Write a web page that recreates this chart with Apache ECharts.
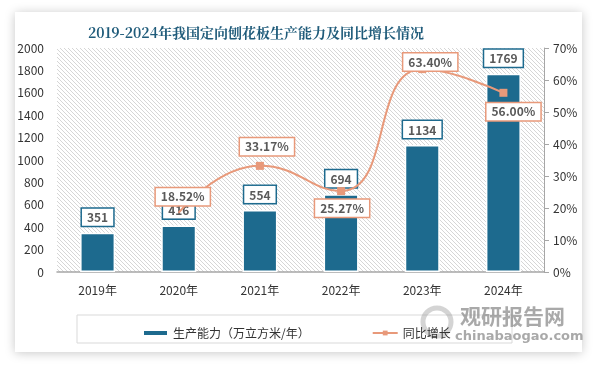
<!DOCTYPE html>
<html>
<head>
<meta charset="utf-8">
<script src="https://cdn.jsdelivr.net/npm/echarts@6/dist/echarts.min.js"></script>
<style>
html,body{margin:0;padding:0;background:#ffffff;}
#c{width:594px;height:366px;}
</style>
</head>
<body>
<div id="c"></div>
<script>
var categories = ['2019年','2020年','2021年','2022年','2023年','2024年'];
var capacity = [351, 416, 554, 694, 1134, 1769];
var growth = [null, 18.52, 33.17, 25.27, 63.40, 56.00];
var leftTicks = [0, 2000, 200];
var rightTicks = [0, 70, 10];

var barColor = '#1d6a8e';
var lineColor = '#e8997a';

// hatch pattern
var pc = document.createElement('canvas');
pc.width = 4; pc.height = 4;
var ctx = pc.getContext('2d');
ctx.fillStyle = '#ffffff';
ctx.fillRect(0,0,4,4);
ctx.strokeStyle = '#d6d6d6';
ctx.lineWidth = 1;
ctx.beginPath();
ctx.moveTo(-1,-1); ctx.lineTo(5,5);
ctx.moveTo(-1,3); ctx.lineTo(1,5);
ctx.moveTo(3,-1); ctx.lineTo(5,1);
ctx.stroke();

var lineOffsets = [null, [4,-16], [7,-19], [1,17], [8,-7], [10,19]];

var chart = echarts.init(document.getElementById('c'), null, {renderer:'canvas'});
var fam = '"Noto Sans CJK SC","Liberation Sans",sans-serif';

var lineData = growth.map(function(v,i){
  if (v === null) return null;
  var d = { value: v, label: {offset: lineOffsets[i]} };
  if (i === 1) d.symbolSize = 1;
  return d;
});

chart.setOption({
  animation:false,
  textStyle:{fontFamily:fam},
  graphic:[
    {type:'rect', z:-10, silent:true, shape:{x:15,y:12,width:567,height:340},
     style:{fill:'#ffffff', shadowBlur:10, shadowColor:'rgba(0,0,0,0.22)', shadowOffsetX:0, shadowOffsetY:1}},
    {type:'text', z:5, x:256, y:33, style:{text:'2019-2024年我国定向刨花板生产能力及同比增长情况', fill:'#1f5b7a',
      font:'bold 14px "Noto Serif CJK SC","Noto Sans CJK SC",serif', textAlign:'center', textVerticalAlign:'middle'}},
    {type:'rect', z:1, silent:true, shape:{x:77,y:315,width:435,height:28},
     style:{fill:'none', stroke:'#d9d9d9', lineWidth:1}},
    {type:'circle', z:2, silent:true, shape:{cx:437,cy:322,r:14},
     style:{fill:'none', stroke:'rgba(160,160,160,0.45)', lineWidth:5}},
    {type:'text', z:2, x:460, y:316, style:{text:'观研报告网', fill:'rgba(140,140,140,0.75)',
      font:'bold 21px "Noto Sans CJK SC",sans-serif', textVerticalAlign:'middle'}},
    {type:'text', z:2, x:455, y:337, style:{text:'chinabaogao.com', fill:'rgba(140,140,140,0.75)',
      font:'bold 13px "DejaVu Sans",sans-serif', textVerticalAlign:'middle'}}
  ],
  grid:{left:57, right:50, top:48, bottom:94, show:true, borderWidth:0,
        backgroundColor:{image:pc, repeat:'repeat'}},
  legend:{
    left:137, top:322, itemWidth:25, itemHeight:6, itemGap:62,
    textStyle:{fontSize:12, color:'#333', fontFamily:fam},
    data:[
      {name:'生产能力（万立方米/年）', icon:'rect'},
      {name:'同比增长'}
    ]
  },
  xAxis:{
    type:'category', data:categories,
    axisLine:{lineStyle:{color:'#a6a6a6', width:1.5}},
    axisTick:{show:false},
    axisLabel:{fontSize:12, color:'#333', margin:12}
  },
  yAxis:[
    {type:'value', min:leftTicks[0], max:leftTicks[1], interval:leftTicks[2],
     axisLine:{show:false}, axisTick:{show:false}, splitLine:{show:false},
     axisLabel:{fontSize:12, color:'#333', margin:13, formatter:function(v){return String(v);}}},
    {type:'value', min:rightTicks[0], max:rightTicks[1], interval:rightTicks[2],
     axisLine:{show:true, lineStyle:{color:'#a6a6a6'}},
     axisTick:{show:true, length:5, lineStyle:{color:'#a6a6a6'}},
     splitLine:{show:false},
     axisLabel:{fontSize:12, color:'#333', margin:9, formatter:'{value}%'}}
  ],
  series:[
    {name:'生产能力（万立方米/年）', type:'bar', data:capacity, barWidth:35, yAxisIndex:0,
     itemStyle:{color:barColor, borderColor:'#ffffff', borderWidth:1.5},
     label:{show:true, position:'top', distance:7, color:'#595959', fontWeight:'bold', fontSize:12,
       backgroundColor:'#ffffff', borderColor:barColor, borderWidth:1.5, padding:[3,5,2,5]}},
    {name:'同比增长', type:'line', yAxisIndex:1, data:lineData, smooth:true,
     symbol:'rect', symbolSize:8, connectNulls:false,
     lineStyle:{color:lineColor, width:2}, itemStyle:{color:lineColor},
     label:{show:true, position:'inside', formatter:function(p){return p.value.toFixed(2)+'%';},
       color:'#595959', fontWeight:'bold', fontSize:12,
       backgroundColor:'#ffffff', borderColor:lineColor, borderWidth:1.5, padding:[3,5,2,5]},
     z:3}
  ]
});
</script>
</body>
</html>
